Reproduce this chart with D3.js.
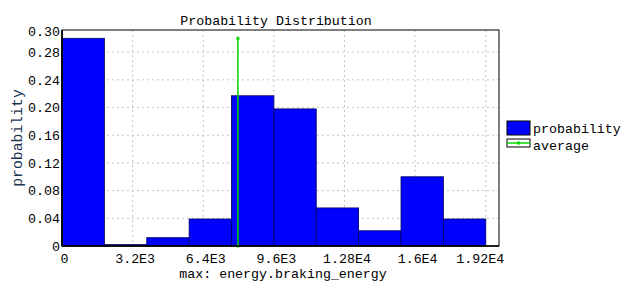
<!DOCTYPE html>
<html lang="en">
<head>
<meta charset="UTF-8">
<title>Probability Distribution</title>
<style>
    body { margin: 0; background: #fff; }
    svg { display: block; }
    text { font-family: "Liberation Mono", "DejaVu Sans Mono", monospace; font-size: 13.3px; fill: #000; }
    .grid line { stroke: #c4c4c4; stroke-width: 1; stroke-dasharray: 2,3; }
    .bar { fill: #0000ff; stroke: #000060; stroke-width: 0.8; }
</style>
</head>
<body>
<div id="chart"></div>
<script src="https://d3js.org/d3.v7.min.js"></script>
<script>
    // histogram bins (lower edges) and probabilities
    const binStart = [0, 1920, 3840, 5760, 7680, 9600, 11520, 13440, 15360, 17280];
    const binWidth = 1920;
    const probability = [0.300, 0.002, 0.012, 0.039, 0.217, 0.198, 0.055, 0.022, 0.100, 0.039];
    const average = 7970;

    const xTicks = [0, 3200, 6400, 9600, 12800, 16000, 19200];
    const xTickLabels = ["0", "3.2E3", "6.4E3", "9.6E3", "1.28E4", "1.6E4", "1.92E4"];
    const yTicks = [0, 0.04, 0.08, 0.12, 0.16, 0.20, 0.24, 0.28];
    const yTickLabels = ["0", "0.04", "0.08", "0.12", "0.16", "0.20", "0.24", "0.28"];
    const yTopLabel = "0.30";

    const W = 628, H = 288;
    const margin = { left: 62, right: 129, top: 30, bottom: 42 };
    const iw = W - margin.left - margin.right;
    const ih = H - margin.top - margin.bottom;

    const svg = d3.select("#chart").append("svg")
        .attr("width", W).attr("height", H);

    const x = d3.scaleLinear().domain([0, 19800]).range([0, iw]);
    const y = d3.scaleLinear().domain([0, 0.312]).range([ih, 0]);

    const g = svg.append("g").attr("transform", `translate(${margin.left},${margin.top})`);

    // grid
    const grid = g.append("g").attr("class", "grid");
    grid.selectAll("line.v").data(xTicks.slice(1)).enter().append("line")
        .attr("x1", d => x(d)).attr("x2", d => x(d))
        .attr("y1", 0).attr("y2", ih);
    grid.selectAll("line.h").data(yTicks.slice(1)).enter().append("line")
        .attr("x1", 0).attr("x2", iw)
        .attr("y1", d => y(d)).attr("y2", d => y(d));

    // bars
    g.selectAll("rect.bar").data(probability).enter().append("rect")
        .attr("class", "bar")
        .attr("x", (d, i) => x(binStart[i]))
        .attr("width", (d, i) => x(binStart[i] + binWidth) - x(binStart[i]))
        .attr("y", d => y(d))
        .attr("height", d => ih - y(d));

    // average line
    const peak = d3.max(probability);
    g.append("line")
        .attr("x1", x(average)).attr("x2", x(average))
        .attr("y1", y(0)).attr("y2", y(peak))
        .attr("stroke", "#00d800").attr("stroke-width", 1.5);
    g.selectAll("rect.avgpt").data([0, peak]).enter().append("rect")
        .attr("x", x(average) - 1.5).attr("y", d => y(d) - 1.5)
        .attr("width", 3).attr("height", 3)
        .attr("fill", "#00d800");

    // frame
    g.append("rect")
        .attr("width", iw).attr("height", ih)
        .attr("fill", "none").attr("stroke", "#000").attr("stroke-width", 1);
    g.append("line").attr("x1", 0).attr("x2", iw).attr("y1", ih).attr("y2", ih)
        .attr("stroke", "#000").attr("stroke-width", 1.6);
    g.append("line").attr("x1", 0).attr("x2", 0).attr("y1", 0).attr("y2", ih)
        .attr("stroke", "#000").attr("stroke-width", 1.6);

    // axes (labels only)
    const xAxis = d3.axisBottom(x).tickValues(xTicks)
        .tickFormat((d, i) => xTickLabels[i]).tickSize(0).tickPadding(8);
    const xa = g.append("g").attr("transform", `translate(0,${ih})`).call(xAxis);
    xa.select(".domain").remove();
    xa.selectAll("text").attr("font-family", null).attr("font-size", null)
        .attr("dx", (d, i) => i === xTicks.length - 1 ? -6 : 2);

    const yAxis = d3.axisLeft(y).tickValues(yTicks)
        .tickFormat((d, i) => yTickLabels[i]).tickSize(0).tickPadding(2);
    const ya = g.append("g").call(yAxis);
    ya.select(".domain").remove();
    ya.selectAll("text").attr("font-family", null).attr("font-size", null);
    ya.append("text").attr("x", -2).attr("y", 2).attr("dy", "0.32em")
        .attr("text-anchor", "end").text(yTopLabel);

    // title and axis titles
    svg.append("text").attr("x", 276).attr("y", 25).attr("text-anchor", "middle")
        .text("Probability Distribution");
    svg.append("text").attr("x", 283).attr("y", 278).attr("text-anchor", "middle")
        .text("max: energy.braking_energy");
    svg.append("text")
        .attr("transform", `translate(22,${margin.top + ih / 2}) rotate(-90)`)
        .attr("text-anchor", "middle")
        .style("font-size", "14.8px").style("fill", "#1a3550")
        .text("probability");

    // legend
    const lg = svg.append("g").attr("transform", "translate(507,121)");
    lg.append("rect").attr("width", 23).attr("height", 14)
        .attr("fill", "#0000ff").attr("stroke", "#000");
    lg.append("text").attr("x", 26).attr("y", 7).attr("dy", "0.35em").text("probability");
    lg.append("rect").attr("y", 18).attr("width", 23).attr("height", 8)
        .attr("fill", "#fff").attr("stroke", "#000");
    lg.append("line").attr("x1", 0).attr("x2", 23).attr("y1", 22).attr("y2", 22)
        .attr("stroke", "#00d800").attr("stroke-width", 1.5);
    lg.append("rect").attr("x", 10).attr("y", 20.5).attr("width", 3).attr("height", 3)
        .attr("fill", "#00d800");
    lg.append("text").attr("x", 26).attr("y", 24).attr("dy", "0.35em").text("average");
</script>
</body>
</html>
